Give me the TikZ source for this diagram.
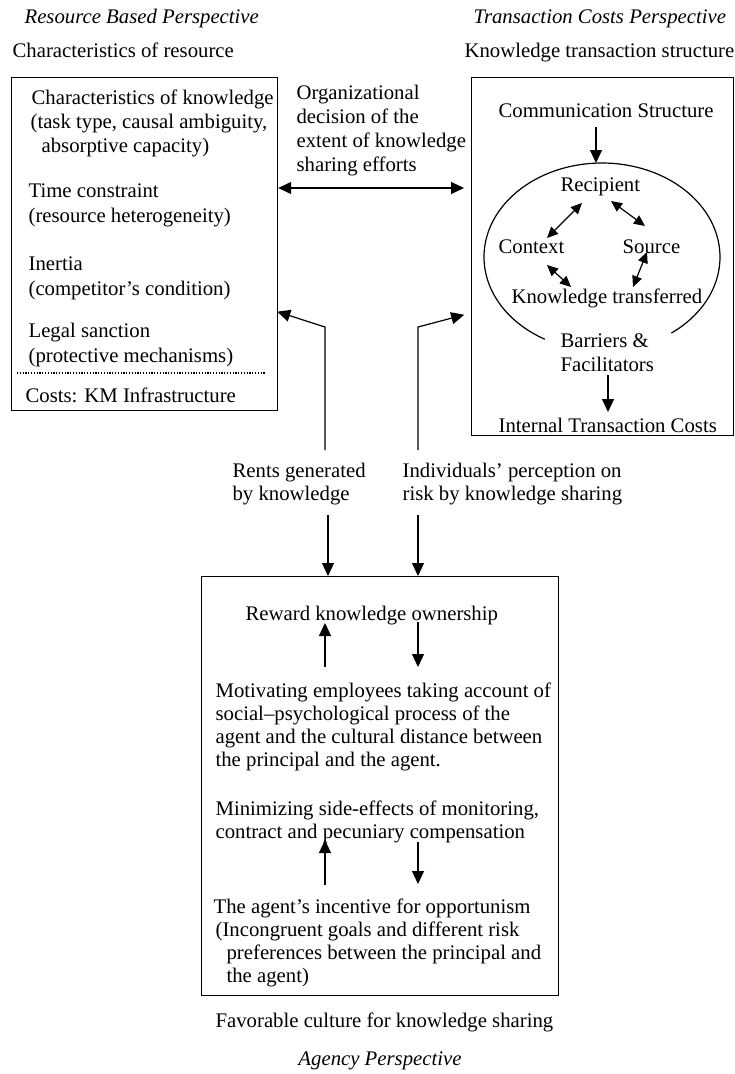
\documentclass[tikz,border=0pt]{standalone}
\usepackage{fontspec}
\setmainfont{Liberation Serif}
\usetikzlibrary{arrows.meta,calc}
\begin{document}
\begin{tikzpicture}[x=1pt,y=-1pt,
  line width=1.2pt,
  >={Triangle[length=13pt,width=12pt]},
  sm/.style={{Triangle[length=11pt,width=10pt]}-{Triangle[length=11pt,width=10pt]}},
  txt/.style={inner sep=0pt, anchor=base west, font=\fontsize{20.75}{24.5}\selectfont},
  ital/.style={txt, font=\fontsize{20.75}{24.5}\selectfont\itshape},
  boxnode/.style={draw, line width=1.2pt, inner sep=0pt, anchor=north west}]
\useasboundingbox (0,0) rectangle (734,1074);

% ---------- headings ----------
\node[ital] (hrb) at (24,23) {Resource Based Perspective};
\node[txt] (hcr) at (12,57) {Characteristics of resource};
\node[ital] (htc) at (473,23) {Transaction Costs Perspective};
\node[txt] (hkt) at (464,57) {Knowledge transaction structure};

% ---------- boxes ----------
\node[boxnode, minimum width=266pt, minimum height=333pt] (lbox) at (11,77) {};
\node[boxnode, minimum width=262pt, minimum height=358pt] (rbox) at (471,77) {};
\node[boxnode, minimum width=357pt, minimum height=419pt] (bbox) at (201,576) {};

% ---------- left box text ----------
\node[txt] (l1) at (31,104) {Characteristics of knowledge};
\node[txt] (l2) at (30,128) {(task type, causal ambiguity,};
\node[txt] (l3) at (41,152) {absorptive capacity)};
\node[txt] (l4) at (28,197) {Time constraint};
\node[txt] (l5) at (28,222) {(resource heterogeneity)};
\node[txt] (l6) at (28,270) {Inertia};
\node[txt] (l7) at (28,295) {(competitor’s condition)};
\node[txt] (l8) at (28,337) {Legal sanction};
\node[txt] (l9) at (28,362) {(protective mechanisms)};
\coordinate (d1) at (17,373);
\coordinate (d2) at (266,373);
\draw[line width=1.2pt, dash pattern=on 1.2pt off 1.6pt] (d1) -- (d2);
\node[txt] (l10) at (25,402) {Costs: KM Infrastructure};

% ---------- middle text ----------
\node[txt] (m1) at (296,99) {Organizational};
\node[txt] (m2) at (296,123) {decision of the};
\node[txt] (m3) at (296,147) {extent of knowledge};
\node[txt] (m4) at (296,171) {sharing efforts};
\coordinate (hm) at (370,188);
\draw[<->, shorten >=7pt] (lbox.east |- hm) -- (rbox.west |- hm);

% ---------- right box ----------
\node[txt] (comm) at (498,117) {Communication Structure};
\node[txt] (rec) at (560,191) {Recipient};
\node[txt] (ctx) at (498,253) {Context};
\node[txt] (src) at (622,253) {Source};
\node[txt] (kt) at (511,303) {Knowledge transferred};
\node[txt] (bar1) at (560,347) {Barriers \&};
\node[txt] (bar2) at (560,371) {Facilitators};
\node[txt] (itc) at (498,432) {Internal Transaction Costs};
\draw plot[domain=119:414, samples=150, smooth] ({602+118*cos(\x)},{257+94*sin(\x)});
\coordinate (etop) at (596,163);
\coordinate (ca) at (596,127);
\draw[->] (ca) -- (etop);
\coordinate (r1) at (582,203); \coordinate (c1) at (547,238);
\draw[sm] (r1) -- (c1);
\coordinate (r2) at (611,201); \coordinate (s1) at (645,226);
\draw[sm] (r2) -- (s1);
\coordinate (c2) at (547,265); \coordinate (k1) at (571,287);
\draw[sm] (c2) -- (k1);
\coordinate (s2) at (647,252); \coordinate (k2) at (633,287);
\draw[sm] (s2) -- (k2);
\coordinate (ba) at (608,375);
\coordinate (ib) at (608,412);
\draw[->] (ba) -- (ib);

% ---------- elbow connectors ----------
\coordinate (e1) at (325,450);
\coordinate (e1b) at (325,327);
\coordinate (e1t) at (lbox.east |- 0,312);
\draw[->, shorten >=-1pt] (e1) -- (e1b) -- (e1t);
\coordinate (e2) at (418,450);
\coordinate (e2b) at (418,327);
\coordinate (e2t) at (rbox.west |- 0,313);
\draw[->, shorten >=7pt] (e2) -- (e2b) -- (e2t);

\node[txt] (rg1) at (232,477) {Rents generated};
\node[txt] (rg2) at (232,500) {by knowledge};
\node[txt] (ip1) at (402,477) {Individuals’ perception on};
\node[txt] (ip2) at (402,500) {risk by knowledge sharing};

\coordinate (a1) at (328,515);
\coordinate (a2) at (418,515);
\draw[->] (a1) -- (a1 |- bbox.north);
\draw[->] (a2) -- (a2 |- bbox.north);

% ---------- bottom box ----------
\node[txt] (b1) at (245,620) {Reward knowledge ownership};
\coordinate (u1a) at (325,667); \coordinate (u1b) at (325,623);
\draw[->] (u1a) -- (u1b);
\coordinate (v1a) at (418,622); \coordinate (v1b) at (418,667);
\draw[->] (v1a) -- (v1b);
\node[txt] (b2) at (215,697) {Motivating employees taking account of};
\node[txt] (b3) at (215,720) {social--psychological process of the};
\node[txt] (b4) at (215,743) {agent and the cultural distance between};
\node[txt] (b5) at (215,766) {the principal and the agent.};
\node[txt] (b6) at (215,815) {Minimizing side-effects of monitoring,};
\node[txt] (b7) at (215,838) {contract and pecuniary compensation};
\coordinate (u2a) at (325,885); \coordinate (u2b) at (325,840);
\draw[->] (u2a) -- (u2b);
\coordinate (v2a) at (418,842); \coordinate (v2b) at (418,884);
\draw[->] (v2a) -- (v2b);
\node[txt] (b8) at (213,913) {The agent’s incentive for opportunism};
\node[txt] (b9) at (215,936) {(Incongruent goals and different risk};
\node[txt] (b10) at (226,959) {preferences between the principal and};
\node[txt] (b11) at (226,982) {the agent)};

\node[txt] (fav) at (215,1027) {Favorable culture for knowledge sharing};
\node[ital, anchor=base] (ap) at (380,1065) {Agency Perspective};
\end{tikzpicture}
\end{document}
